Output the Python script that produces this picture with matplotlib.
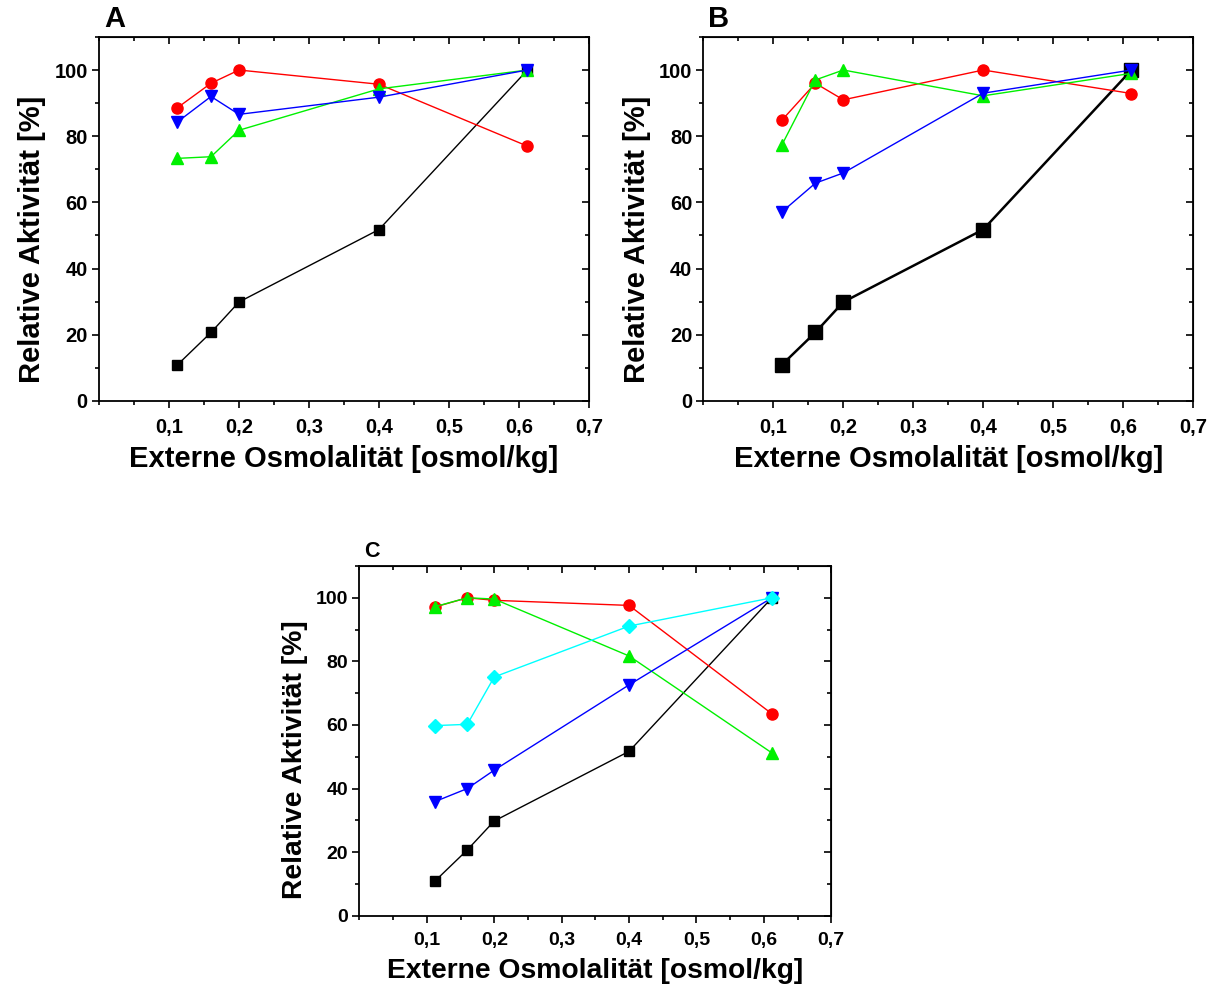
import numpy as np
import matplotlib
matplotlib.use('Agg')
import matplotlib.pyplot as plt
from matplotlib.ticker import MultipleLocator, FixedLocator

plt.rcParams['font.family'] = ['Liberation Sans', 'DejaVu Sans']
plt.rcParams['font.weight'] = 'bold'

# osmolality values (osmol/kg)
x = [0.112, 0.16, 0.2, 0.4, 0.612]
xticks = [0.1, 0.2, 0.3, 0.4, 0.5, 0.6, 0.7]
xticklabels = ['0,1', '0,2', '0,3', '0,4', '0,5', '0,6', '0,7']

# panel A
a_black = [10.9, 20.7, 29.9, 51.8, 100]
a_red = [88.6, 96.0, 100, 95.7, 77.0]
a_green = [73.3, 73.8, 81.8, 94.3, 100]
a_blue = [84.3, 92.0, 86.6, 91.8, 100]

# panel B
b_black = [10.9, 20.7, 29.9, 51.8, 100]
b_red = [84.8, 96.0, 91.0, 100, 92.9]
b_green = [77.3, 97.0, 100, 92.2, 99.0]
b_blue = [57.1, 65.8, 68.9, 93.0, 100]

# panel C
c_black = [10.9, 20.7, 29.8, 51.7, 100]
c_red = [97.1, 100, 99.2, 97.6, 63.5]
c_green = [97.2, 100, 99.6, 81.7, 51.2]
c_blue = [35.9, 40.0, 45.8, 72.6, 100]
c_cyan = [59.8, 60.2, 75.1, 91.1, 100]

GREEN = '#00f000'


def setup_axes(ax, letter, letter_size, label_size, tick_size):
    ax.set_xlim(0, 0.7)
    ax.set_ylim(0, 110)
    ax.xaxis.set_major_locator(FixedLocator(xticks))
    ax.set_xticklabels(xticklabels)
    ax.xaxis.set_minor_locator(MultipleLocator(0.05))
    ax.yaxis.set_major_locator(FixedLocator([0, 20, 40, 60, 80, 100]))
    ax.yaxis.set_minor_locator(MultipleLocator(10))
    ax.tick_params(which='major', direction='out', length=5, width=1.2,
                   labelsize=tick_size)
    ax.tick_params(which='minor', direction='out', length=3, width=1.2)
    ax.tick_params(axis='x', which='major', pad=7)
    ax.tick_params(axis='y', which='major', pad=3)
    for lab in ax.get_xticklabels() + ax.get_yticklabels():
        lab.set_fontweight('bold')
    for s in ax.spines.values():
        s.set_linewidth(1.3)
    # mirrored inward ticks on top and right
    top = ax.secondary_xaxis('top')
    top.xaxis.set_major_locator(FixedLocator(xticks))
    top.xaxis.set_minor_locator(MultipleLocator(0.05))
    top.tick_params(which='major', direction='in', length=5, width=1.2, labeltop=False)
    top.tick_params(which='minor', direction='in', length=3, width=1.2)
    right = ax.secondary_yaxis('right')
    right.yaxis.set_major_locator(FixedLocator([0, 20, 40, 60, 80, 100]))
    right.yaxis.set_minor_locator(MultipleLocator(10))
    right.tick_params(which='major', direction='in', length=5, width=1.2, labelright=False)
    right.tick_params(which='minor', direction='in', length=3, width=1.2)
    ax.set_xlabel('Externe Osmolalität [osmol/kg]', fontsize=label_size,
                  fontweight='bold', labelpad=6)
    ax.set_ylabel('Relative Aktivität [%]', fontsize=label_size,
                  fontweight='bold', labelpad=6, y=0.445)
    ax.text(0.01, 1.01, letter, transform=ax.transAxes, fontsize=letter_size,
            fontweight='bold', va='bottom', ha='left')


fig = plt.figure(figsize=(12.16, 9.9), dpi=100)

# A
axA = fig.add_axes([0.0814, 0.595, 0.403, 0.3677])
axA.plot(x, a_black, color='black', marker='s', ms=7.5, lw=1.0)
axA.plot(x, a_red, color='red', marker='o', ms=8, lw=1.0)
axA.plot(x, a_green, color=GREEN, marker='^', ms=9, lw=1.0)
axA.plot(x, a_blue, color='blue', marker='v', ms=9, lw=1.0)
setup_axes(axA, 'A', 21, 21, 14.5)

# B
axB = fig.add_axes([0.5785, 0.595, 0.4026, 0.3677])
axB.plot(x, b_black, color='black', marker='s', ms=10, lw=1.8)
axB.plot(x, b_red, color='red', marker='o', ms=8, lw=1.0)
axB.plot(x, b_green, color=GREEN, marker='^', ms=9, lw=1.0)
axB.plot(x, b_blue, color='blue', marker='v', ms=9, lw=1.0)
setup_axes(axB, 'B', 21, 21, 14.5)

# C
axC = fig.add_axes([0.2956, 0.075, 0.388, 0.3533])
axC.plot(x, c_black, color='black', marker='s', ms=7.5, lw=1.0)
axC.plot(x, c_red, color='red', marker='o', ms=8, lw=1.0)
axC.plot(x, c_green, color=GREEN, marker='^', ms=9, lw=1.0)
axC.plot(x, c_blue, color='blue', marker='v', ms=9, lw=1.0)
axC.plot(x, c_cyan, color='cyan', marker='D', ms=7, lw=1.0)
setup_axes(axC, 'C', 15.5, 20.3, 14)

fig.savefig('out.png', dpi=100)
